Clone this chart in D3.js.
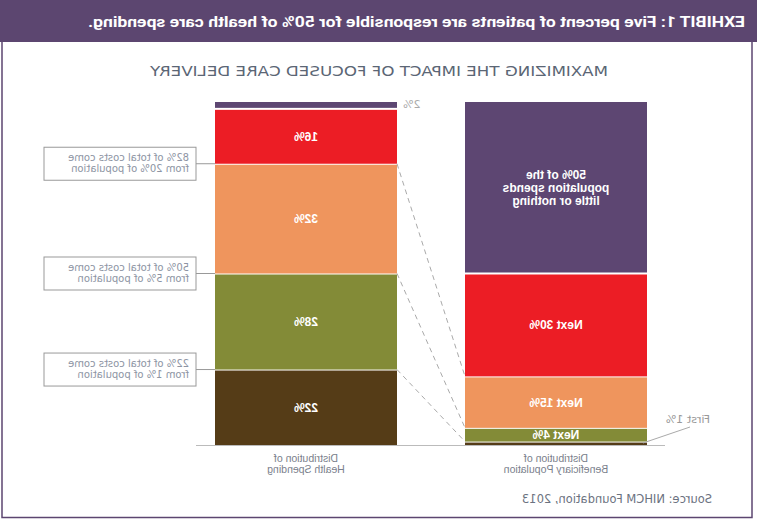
<!DOCTYPE html>
<html>
<head>
<meta charset="utf-8">
<script src="https://cdn.jsdelivr.net/npm/d3@7"></script>
<style>
  html, body { margin: 0; padding: 0; background: #fff; }
  svg { display: block; }
</style>
</head>
<body>
<script>
// ---- data ----
const categories = ["Beneficiary Population", "Health Spending"];
const categoryLabels = [["Distribution of", "Beneficiary Population"], ["Distribution of", "Health Spending"]];
const populationValues = [1, 4, 15, 30, 50];
const spendingValues = [22, 28, 32, 16, 2];
const populationLabels = ["", "Next 4%", "Next 15%", "Next 30%", "50% of the|population spends|little or nothing"];
const spendingLabels = ["22%", "28%", "32%", "16%", ""];
const segmentColors = ["#553c17", "#838b37", "#ef955d", "#ec1d25", "#5d4672"];
const annotationSpendCum = [22, 50, 82];
const annotationPopCum = [1, 5, 20];
const annotationTexts = [
  ["22% of total costs come", "from 1% of population"],
  ["50% of total costs come", "from 5% of population"],
  ["82% of total costs come", "from 20% of population"]
];
const headerText = "EXHIBIT 1: Five percent of patients are responsible for 50% of health care spending.";
const titleText = "MAXIMIZING THE IMPACT OF FOCUSED CARE DELIVERY";
const sourceText = "Source: NIHCM Foundation, 2013";
const smallTopLabel = "2%";
const firstLabel = "First 1%";

// ---- setup ----
const W = 757, H = 520;
const purple = "#5c4670";
const svg = d3.select("body").append("svg").attr("width", W).attr("height", H);
// The reference is drawn mirrored horizontally
const root = svg.append("g").attr("transform", `translate(${W},0) scale(-1,1)`);

const x = d3.scaleBand().domain(categories).range([110, 542]).paddingInner(0.272).paddingOuter(0);
const y = d3.scaleLinear().domain([0, 100]).range([445, 102]);

// frame + header
root.append("rect").attr("x", 5).attr("y", -2).attr("width", 750).attr("height", 519.5)
  .attr("fill", "none").attr("stroke", purple).attr("stroke-width", 1.5);
root.append("rect").attr("x", 0).attr("y", 0).attr("width", W).attr("height", 42).attr("fill", purple);
root.append("text").attr("x", 12).attr("y", 27).text(headerText)
  .attr("fill", "#fff").attr("font-family", "'Liberation Sans Narrow', Roboto, sans-serif")
  .attr("font-weight", "bold").attr("font-size", 15.5)
  .attr("textLength", 657).attr("lengthAdjust", "spacingAndGlyphs");

root.append("text").attr("x", 378).attr("y", 76).attr("text-anchor", "middle").text(titleText)
  .attr("fill", "#5b6675").attr("font-family", "'DejaVu Sans', sans-serif").attr("font-size", 14.5)
  .attr("textLength", 458).attr("lengthAdjust", "spacingAndGlyphs");

// stacks
function stackOf(values) {
  let c = 0;
  return values.map((v, i) => { const s = { i, v, y0: c, y1: c + v }; c += v; return s; });
}
const popStack = stackOf(populationValues);
const spStack = stackOf(spendingValues);

function drawBar(cat, stack, labels) {
  const g = root.append("g");
  g.selectAll("rect").data(stack).join("rect")
    .attr("x", x(cat)).attr("width", x.bandwidth())
    .attr("y", d => y(d.y1) + (d.i === stack.length - 1 ? 0 : 1))
    .attr("height", d => Math.max(0.8, y(d.y0) - y(d.y1) - 1))
    .attr("fill", d => segmentColors[d.i]);
  stack.forEach(d => {
    const lab = labels[d.i];
    if (!lab) return;
    const lines = lab.split("|");
    const cy = (y(d.y0) + y(d.y1)) / 2;
    const lh = 13;
    lines.forEach((ln, k) => {
      g.append("text").attr("x", x(cat) + x.bandwidth() / 2)
        .attr("y", cy + (k - (lines.length - 1) / 2) * lh + 4.5)
        .attr("text-anchor", "middle").attr("fill", "#fff")
        .attr("font-family", "'Liberation Sans', Arial, sans-serif").attr("font-weight", "bold")
        .attr("font-size", 12).text(ln);
    });
  });
}
drawBar(categories[0], popStack, populationLabels);
drawBar(categories[1], spStack, spendingLabels);

// baseline
root.append("line").attr("x1", 92).attr("x2", 561).attr("y1", 445.5).attr("y2", 445.5)
  .attr("stroke", "#bbb").attr("stroke-width", 1.2);

// dashed connectors
annotationSpendCum.forEach((c, i) => {
  root.append("line")
    .attr("x1", x(categories[1])).attr("y1", y(c))
    .attr("x2", x(categories[0]) + x.bandwidth()).attr("y2", y(annotationPopCum[i]))
    .attr("stroke", "#aaa").attr("stroke-width", 1).attr("stroke-dasharray", "5,4");
});

// annotation boxes
const boxX = 561, boxW = 152, boxH = 33;
annotationSpendCum.forEach((c, i) => {
  const cy = y(c);
  root.append("line").attr("x1", x(categories[1]) + x.bandwidth()).attr("x2", boxX)
    .attr("y1", cy).attr("y2", cy).attr("stroke", "#999").attr("stroke-width", 1);
  root.append("rect").attr("x", boxX).attr("y", cy - 16.5).attr("width", boxW).attr("height", boxH)
    .attr("fill", "#fff").attr("stroke", "#999").attr("stroke-width", 1);
  annotationTexts[i].forEach((t, k) => {
    root.append("text").attr("x", boxX + 7).attr("y", cy - 2.5 + k * 10.5).text(t)
      .attr("fill", "#8d94a3").attr("font-family", "'DejaVu Sans', sans-serif").attr("font-size", 10);
  });
});

// small labels
const topSeg = spStack[spStack.length - 1];
root.append("text").attr("x", x(categories[1]) - 6).attr("y", y(topSeg.y1) + 6).attr("text-anchor", "end")
  .text(smallTopLabel).attr("fill", "#aaa").attr("font-family", "'DejaVu Sans', sans-serif").attr("font-size", 11);

const firstSeg = popStack[0];
root.append("line").attr("x1", x(categories[0]) + 4).attr("y1", y(firstSeg.y0) - 2)
  .attr("x2", 67).attr("y2", 427).attr("stroke", "#aaa").attr("stroke-width", 1);
root.append("text").attr("x", 47).attr("y", 423).text(firstLabel)
  .attr("fill", "#999").attr("font-family", "'DejaVu Sans', sans-serif").attr("font-size", 11);

// category labels
categories.forEach((c, i) => {
  categoryLabels[i].forEach((t, k) => {
    root.append("text").attr("x", x(c) + x.bandwidth() / 2).attr("y", 462 + k * 10.5)
      .attr("text-anchor", "middle").text(t).attr("fill", "#7a808c")
      .attr("font-family", "'Liberation Sans', Arial, sans-serif").attr("font-size", 10.5);
  });
});

// source
root.append("text").attr("x", 45).attr("y", 503).text(sourceText)
  .attr("fill", "#6b7280").attr("font-family", "'DejaVu Sans', sans-serif").attr("font-size", 11.5);
</script>
</body>
</html>
